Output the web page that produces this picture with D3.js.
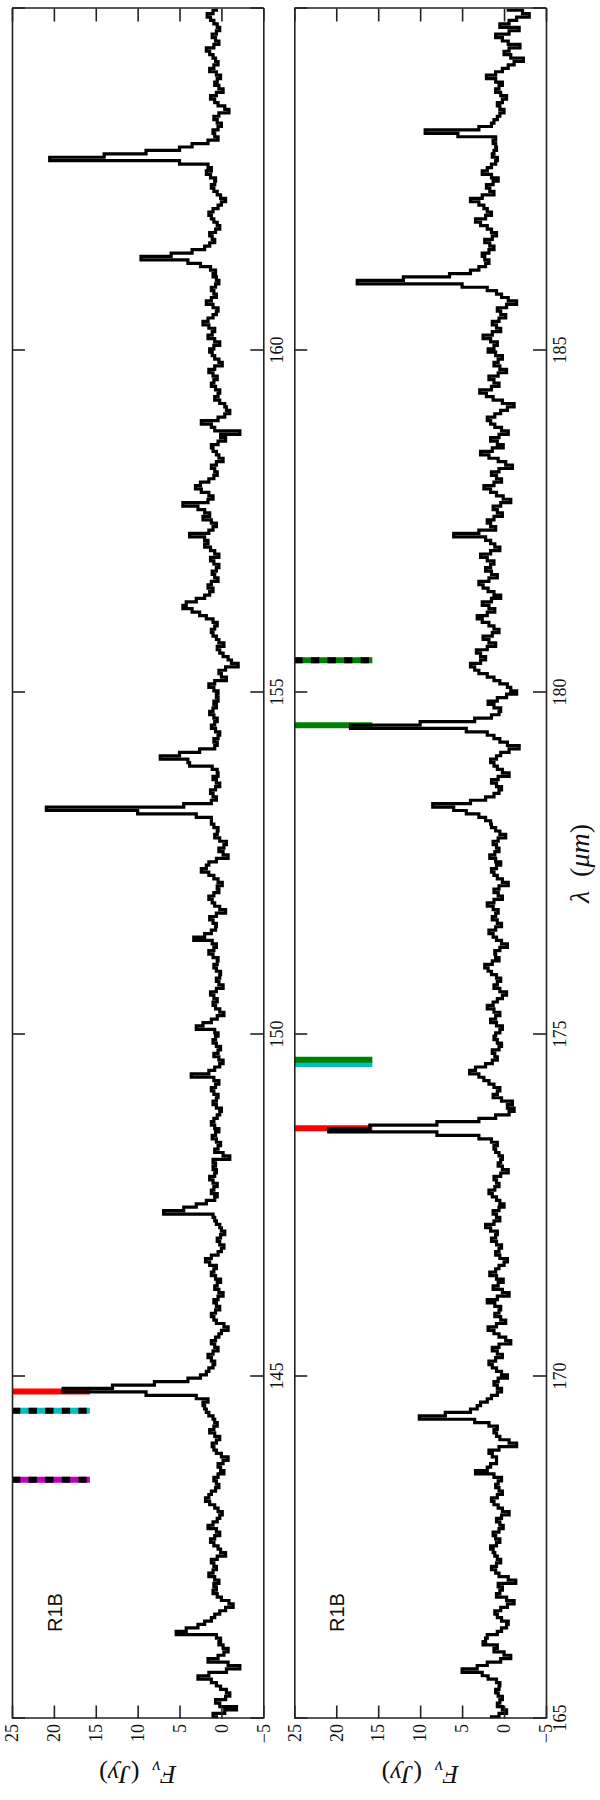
<!DOCTYPE html>
<html>
<head>
<meta charset="utf-8">
<script src="https://cdn.jsdelivr.net/npm/d3@7"></script>
<style>
  html, body { margin: 0; padding: 0; background: #fff; }
  svg { display: block; }
</style>
</head>
<body>
<script>
// ---------------- DATA ----------------
// Flux (Jy) sampled every 0.05 micron; panel A starts at 140, panel B at 165
const lamStep = 0.05;
const lamStartA = 140;
const lamStartB = 165;

const fluxA = [
  0.6, 1.0, -0.4, -1.8, 0.2, 0.7, -0.5, -1.0, -0.6, 0.1, 0.6, 1.2, 2.8, 1.5, -0.6, -2.2, -0.8, 1.6, 0.4, -0.3,   // 140
  -0.8, -0.2, 0.3, 0.1, 0.6, 5.4, 4.2, 2.8, 2.0, 1.2, 0.8, 0.2, -0.5, -1.4, -0.9, 0.0, 0.5, 1.0, 0.6, 0.9,      // 141
  0.3, 0.8, 1.5, 1.0, 0.6, 0.9, 1.2, 0.5, -0.5, 0.1, 0.4, 0.9, 1.3, 0.8, 0.2, 0.6, 1.6, 1.0, 0.5, 0.2,          // 142
  -0.1, 0.4, 0.8, 1.4, 1.9, 1.5, 1.2, 0.7, 0.3, 0.6, 0.9, 0.4, -0.3, 0.1, 0.4, -0.2, -0.8, 0.0, 0.6, 0.9,       // 143
  1.1, 0.6, 0.2, 0.8, 1.4, 0.9, 0.5, 0.8, 1.0, 1.5, 1.8, 2.0, 2.2, 1.6, 3.0, 9.0, 18.9, 13.0, 8.0, 4.0,         // 144
  2.5, 1.8, 1.5, 1.0, 0.8, 1.2, 1.6, 1.0, 0.4, 0.8, 1.2, 0.7, 0.3, 0.0, -0.8, -0.3, 0.6, 0.9, 1.2, 0.7,         // 145
  0.2, 0.6, 0.9, 0.4, -0.2, 0.3, 0.8, 0.5, 0.1, 0.7, 1.2, 0.9, 0.6, 1.4, 1.9, 1.2, 0.4, 0.0, -0.3, 0.2,         // 146
  0.5, 0.1, -0.4, 0.0, 0.2, 0.6, 0.8, 1.0, 6.9, 4.5, 3.0, 1.8, 0.8, 0.5, 1.2, 0.9, 0.5, 1.0, 1.4, 0.8,          // 147
  0.6, 1.0, 0.7, 1.0, -1.0, -0.2, 0.8, 0.4, 0.1, 0.6, 1.1, 0.7, 0.3, 0.8, 1.2, 0.9, 0.5, 0.2, 0.0, 0.6,         // 148
  1.0, 0.6, 0.4, 0.9, 1.2, 0.7, 0.3, 0.9, 3.6, 1.5, 0.8, 0.2, -0.2, 0.3, 0.9, 0.4, 0.1, 0.6, 1.0, 0.7,          // 149
  0.4, 0.8, 3.0, 2.2, 1.2, 0.5, -0.3, 0.2, 0.7, 1.0, 0.5, 0.9, 1.3, 0.6, -0.2, 0.3, 0.6, 0.2, 0.1, 0.6,         // 150
  0.9, 0.5, 0.4, 1.0, 1.5, 0.9, 0.6, 1.1, 3.3, 2.0, 1.2, 0.7, 0.6, 1.0, 1.4, 0.6, -0.5, 0.2, 0.8, 1.1,          // 151
  1.5, 0.9, 0.3, 0.5, -0.1, 0.4, 0.9, 1.5, 2.4, 1.8, 1.5, 0.6, -0.8, -0.2, 0.3, -0.3, -0.6, 0.2, 0.8, 0.5,      // 152
  0.4, 0.9, 1.2, 1.2, 3.0, 10.0, 20.9, 4.5, 1.2, 0.6, 1.0, 1.3, 0.7, 0.2, 0.6, 1.0, 0.4, 0.5, 1.1, 3.8,         // 153
  4.0, 7.3, 5.0, 2.6, 0.8, 0.5, 0.9, 0.4, 0.2, 0.7, 1.2, 0.8, 0.5, 0.9, 1.4, 1.0, 0.6, 0.9, 0.4, 0.6,           // 154
  0.4, 0.9, 1.5, 0.8, -0.6, 0.0, 0.3, -0.5, -2.0, -1.2, -0.8, -0.2, 0.2, 0.5, -0.3, 0.3, 0.6, 1.0, 1.2, 0.8,    // 155
  0.5, 1.0, 1.8, 2.6, 3.5, 4.6, 4.2, 3.0, 2.0, 1.4, 1.0, 1.6, 1.2, 0.4, 0.8, 1.1, 0.6, 0.3, 0.9, 1.3,           // 156
  0.3, 0.8, 1.3, 2.0, 1.6, 2.0, 3.8, 1.5, 1.0, 0.6, 1.2, 2.2, 1.4, 2.0, 2.8, 4.6, 1.6, 1.0, 1.5, 2.4,           // 157
  3.1, 2.5, 1.5, 0.9, 0.5, 0.8, 1.2, 0.6, -0.2, 0.3, 0.6, 1.0, 1.2, 0.4, -0.5, 0.1, -2.2, 0.8, 1.2, 2.4,        // 158
  0.4, -0.4, -1.0, -0.6, -0.4, 0.2, 0.8, 0.4, 0.2, 0.7, 1.2, 0.9, 0.5, 1.0, 1.5, 0.8, -0.1, 0.3, 0.8, 1.1,      // 159
  1.4, 0.9, 0.2, 0.8, 1.6, 1.1, 0.8, 1.5, 2.2, 1.6, 1.0, 0.6, 0.4, 1.0, 1.8, 1.2, 0.6, 0.9, 1.2, 0.7,           // 160
  0.3, 0.6, 1.0, 0.7, 1.3, 2.5, 4.0, 9.6, 6.0, 3.5, 2.0, 1.4, 0.8, 1.1, 1.4, 0.7, 0.2, 0.5, 0.9, 1.2,           // 161
  1.5, 1.0, 0.4, 0.0, -0.5, 0.1, 0.5, 0.9, 1.2, 0.8, 0.7, 1.3, 1.8, 1.2, 1.6, 5.0, 20.5, 14.0, 9.0, 5.0,        // 162
  3.5, 1.6, 0.4, 0.8, 1.0, 0.4, 0.0, 0.5, 0.9, 0.3, -0.9, -0.4, 0.4, 0.8, 1.3, 0.6, -0.2, 0.3, 0.8, 0.5,        // 163
  0.1, 0.6, 1.4, 0.9, 0.4, 0.7, 1.0, 1.4, 1.8, 0.9, 0.3, 0.7, 1.1, 0.6, 0.2, 0.5, 0.9, 1.3, 1.7, 1.0,           // 164
  0.6                                                                                                           // 165
];

const fluxB = [
  1.5, 0.6, -0.3, 0.2, 0.8, 0.5, 0.2, 0.7, 1.0, 0.6, 0.5, 0.9, 1.9, 2.6, 5.0, 3.2, 2.0, 0.4, -0.8, 0.0,         // 165
  1.2, 0.8, 2.5, 2.2, 2.0, 0.8, 0.3, -0.3, -0.5, 0.3, 0.8, 1.1, 0.4, -0.4, -1.2, -0.3, 0.9, 0.5, 0.2, 0.7,      // 166
  -1.4, -0.5, 0.6, 1.0, 1.5, 0.9, 0.4, 0.8, 1.1, 1.3, 1.6, 0.9, 0.5, 1.0, 1.3, 0.6, 0.1, 0.5, 0.9, 0.3,         // 167
  -0.6, 0.2, 0.7, 1.2, 1.5, 0.8, 0.2, 0.6, 1.0, 0.7, 0.3, 1.2, 3.4, 2.0, 1.6, 0.9, 0.9, 1.4, 1.8, 0.6,          // 168
  -1.5, -0.6, 0.5, 0.9, 1.2, 0.8, 1.8, 3.5, 10.1, 7.0, 4.0, 3.2, 2.8, 2.0, 1.5, 0.8, 0.3, 0.8, 1.2, 0.7,        // 169
  -0.4, 0.3, 0.9, 1.4, 1.8, 1.0, 0.2, 0.8, 1.4, 0.6, -0.8, -0.2, 0.6, 1.2, 1.9, 0.9, -0.2, 0.4, 1.1, 0.6,       // 170
  0.4, 1.1, 2.0, 0.8, -0.6, 0.2, 1.3, 0.7, 0.1, 0.9, 1.7, 1.0, 0.6, 0.0, -0.4, 0.5, 1.0, 0.6, 0.3, 0.9,         // 171
  1.5, 1.0, 0.8, 1.6, 2.2, 1.2, 0.5, 0.9, 1.3, 0.6, 0.0, 0.5, 0.9, 1.4, 1.8, 1.1, 0.6, 0.9, 1.2, 0.4,           // 172
  -0.5, 0.2, 0.7, 0.4, 0.2, 0.6, 1.0, 1.2, 0.8, 1.5, 3.0, 8.0, 20.9, 16.0, 8.0, 3.0, 1.0, -0.6, -1.2, -0.4,     // 173
  -1.0, 0.3, 1.3, 0.8, 0.5, 1.2, 1.8, 2.4, 3.0, 4.1, 3.4, 2.2, 1.4, 0.8, 1.1, 1.4, 0.6, 0.3, 0.8, 1.2,          // 174
  1.0, 0.5, 0.2, 0.9, 1.6, 1.0, 0.5, 1.2, 2.0, 1.3, 0.8, 0.2, -0.3, 0.5, 1.2, 0.8, 0.4, 0.9, 1.5, 1.9,          // 175
  2.3, 1.4, 0.6, 1.0, 1.1, 0.5, -0.4, 0.3, 0.9, 1.3, 1.8, 1.0, 0.3, 0.8, 1.4, 1.0, 0.7, 1.3, 2.0, 1.2,          // 176
  0.2, 0.7, 1.2, 0.6, -0.5, 0.2, 0.8, 1.2, 1.5, 0.9, 0.4, 1.0, 1.7, 1.1, 0.6, 0.9, 1.3, 0.7, -0.2, 0.5,         // 177
  1.0, 1.5, 1.6, 2.2, 3.0, 4.5, 6.0, 8.5, 4.0, 2.2, 1.2, 0.6, 0.3, 0.9, 1.5, 0.7, -0.6, 0.2, 0.8, 1.2,          // 178
  1.6, 0.9, 0.4, -0.6, -1.8, -0.4, 0.5, 1.2, 2.0, 4.5, 18.3, 10.0, 3.5, 1.5, 0.6, 0.4, 1.2, 1.9, 0.8, -0.3,     // 179
  -1.5, -0.8, -0.4, 0.5, 1.2, 2.0, 3.0, 3.5, 4.0, 2.8, 2.2, 2.8, 3.3, 2.0, 1.0, 1.8, 2.5, 1.4, 0.6, 1.2,        // 180
  1.8, 2.6, 3.2, 2.0, 1.1, 1.8, 2.6, 1.5, 0.4, 1.2, 1.9, 2.5, 3.0, 1.8, 0.8, 1.5, 2.2, 1.6, 1.2, 2.0,           // 181
  2.8, 1.6, 0.5, 1.1, 1.6, 2.2, 6.0, 3.0, 1.0, 1.6, 2.0, 1.2, 0.2, 0.8, 1.3, 0.4, -0.8, 0.1, 0.9, 1.6,          // 182
  2.4, 1.2, 0.3, 0.9, 1.5, 0.6, -1.0, -0.2, 0.7, 1.8, 2.8, 1.4, 0.1, 0.8, 1.6, 0.6, -0.5, 0.3, 1.1, 1.6,        // 183
  2.0, 1.1, 0.4, -0.4, -1.2, 0.2, 1.3, 2.1, 2.9, 1.5, 0.6, 1.2, 1.8, 0.7, -0.3, 0.5, 1.2, 0.7, 0.2, 1.0,        // 184
  1.9, 1.2, 0.8, 1.6, 2.5, 1.4, 0.4, 0.9, 1.4, 0.6, -0.2, 0.4, 0.8, -0.3, -1.5, -0.5, 0.3, 0.9, 2.0, 5.0,       // 185
  17.5, 12.0, 6.5, 4.0, 3.0, 2.2, 1.8, 2.3, 2.6, 1.8, 1.2, 1.7, 2.3, 1.4, 0.9, 1.5, 2.0, 2.8, 3.4, 2.2,         // 186
  1.5, 2.0, 2.4, 3.0, 4.0, 2.6, 1.2, 1.7, 2.1, 1.3, 0.7, 1.5, 2.6, 2.0, 1.5, 1.0, 0.8, 1.4, 1.2, 0.9,           // 187
  1.0, 1.3, 1.0, 5.5, 9.4, 3.0, 1.5, 1.2, 0.8, 0.5, 0.0, 0.5, 0.8, 0.2, -0.3, 0.4, 1.0, 0.6, 0.2, 1.0,          // 188
  2.1, 1.0, 0.2, -0.5, -1.2, -2.3, -0.8, 0.0, -0.6, -1.9, -0.5, 0.2, 1.0, -0.6, -1.8, 0.5, -0.6, -1.5, -3.0, -2.2, // 189
  -0.5                                                                                                          // 190
];

// Axis ticks / labels
const fluxTicks = [25, 20, 15, 10, 5, 0, -5];
const lamTicksA = [140, 145, 150, 155, 160, 165];
const lamLabelsA = [145, 150, 155, 160];
const lamTicksB = [165, 170, 175, 180, 185, 190];
const lamLabelsB = [165, 170, 175, 180, 185];
const panelText = ["R1B", "R1B"];

// Line markers (wavelength, colour, dashed)
const markLamA = [143.49, 144.50, 144.78];
const markColA = ["#bf00bf", "#00bfbf", "#ff0000"];
const markDashA = [true, true, false];
const markLamB = [173.63, 174.57, 174.63, 179.52, 180.47];
const markColB = ["#ff0000", "#00bfbf", "#008000", "#008000", "#008000"];
const markDashB = [false, false, false, false, true];
const markFluxRange = [25, 15.7];

// ---------------- DRAWING ----------------
const W = 600, H = 1800;
const svg = d3.select("body").append("svg")
  .attr("width", W).attr("height", H)
  .attr("xmlns", "http://www.w3.org/2000/svg");
svg.append("rect").attr("width", W).attr("height", H).attr("fill", "#fff");

// draw in landscape coordinates, then rotate the figure by -90 degrees
const fig = svg.append("g").attr("transform", `translate(0,${H}) rotate(-90)`);
const defs = svg.append("defs");

const xRange = [81.5, 1791.5];
const panels = [
  { lam0: lamStartA, lam1: lamStartA + 25, flux: fluxA, top: 12, bottom: 263.3,
    ticks: lamTicksA, labels: lamLabelsA, mLam: markLamA, mCol: markColA, mDash: markDashA },
  { lam0: lamStartB, lam1: lamStartB + 25, flux: fluxB, top: 294.3, bottom: 546,
    ticks: lamTicksB, labels: lamLabelsB, mLam: markLamB, mCol: markColB, mDash: markDashB }
];

const serif = "'Liberation Serif', 'DejaVu Serif', serif";
const frameCol = "#222";

panels.forEach((p, i) => {
  const x = d3.scaleLinear().domain([p.lam0, p.lam1]).range(xRange);
  const y = d3.scaleLinear().domain([-5, 25]).range([p.bottom, p.top]);
  const g = fig.append("g");

  defs.append("clipPath").attr("id", "clip" + i)
    .append("rect")
    .attr("x", xRange[0]).attr("y", p.top)
    .attr("width", xRange[1] - xRange[0]).attr("height", p.bottom - p.top);

  // markers
  const mk = g.append("g");
  p.mLam.forEach((l, k) => {
    mk.append("line")
      .attr("x1", x(l)).attr("x2", x(l))
      .attr("y1", y(markFluxRange[0])).attr("y2", y(markFluxRange[1]))
      .attr("stroke", p.mCol[k]).attr("stroke-width", 6);
    if (p.mDash[k]) {
      mk.append("line")
        .attr("x1", x(l)).attr("x2", x(l))
        .attr("y1", y(markFluxRange[0])).attr("y2", y(markFluxRange[1]))
        .attr("stroke", "#000").attr("stroke-width", 6)
        .attr("stroke-dasharray", "8.3,8.3");
    }
  });

  // spectrum
  const data = p.flux.map((f, k) => ({ lam: p.lam0 + k * lamStep, f: f }));
  const line = d3.line().x(d => x(d.lam)).y(d => y(d.f)).curve(d3.curveStep);
  g.append("path").datum(data)
    .attr("clip-path", `url(#clip${i})`)
    .attr("d", line)
    .attr("fill", "none").attr("stroke", "#000")
    .attr("stroke-width", 3.2).attr("stroke-linejoin", "miter");

  // axes
  const axB = g.append("g").attr("transform", `translate(0,${p.bottom})`)
    .call(d3.axisBottom(x).tickValues(p.ticks).tickSizeInner(-13).tickSizeOuter(0)
      .tickPadding(7).tickFormat(d => p.labels.includes(d) ? String(d) : ""));
  const axT = g.append("g").attr("transform", `translate(0,${p.top})`)
    .call(d3.axisTop(x).tickValues(p.ticks).tickSizeInner(-13).tickSizeOuter(0)
      .tickFormat(() => ""));
  const axL = g.append("g").attr("transform", `translate(${xRange[0]},0)`)
    .call(d3.axisLeft(y).tickValues(fluxTicks).tickSizeInner(-13).tickSizeOuter(0)
      .tickPadding(5.5).tickFormat(d3.format("d")));
  const axR = g.append("g").attr("transform", `translate(${xRange[1]},0)`)
    .call(d3.axisRight(y).tickValues(fluxTicks).tickSizeInner(-13).tickSizeOuter(0)
      .tickFormat(() => ""));

  [axB, axT, axL, axR].forEach(a => {
    a.attr("font-family", serif).attr("font-size", 18);
    a.selectAll("path.domain").attr("stroke", frameCol).attr("stroke-width", 1.6);
    a.selectAll(".tick line").attr("stroke", frameCol).attr("stroke-width", 1.6);
    a.selectAll("text").attr("fill", "#111");
  });

  // panel label
  g.append("text")
    .attr("x", 168).attr("y", p.top + 50)
    .attr("font-family", "'Liberation Sans', Arial, sans-serif")
    .attr("font-size", 20).attr("fill", "#111")
    .text(panelText[i]);

  // y axis label  F_nu (Jy)
  const yl = g.append("text")
    .attr("transform", `translate(34,${(p.top + p.bottom) / 2}) rotate(-90)`)
    .attr("text-anchor", "middle")
    .attr("font-family", serif).attr("font-size", 26).attr("fill", "#111")
    .style("white-space", "pre");
  yl.append("tspan").attr("font-style", "italic").text("F");
  yl.append("tspan").attr("font-style", "italic").attr("font-size", 18).attr("dy", 5).text("ν");
  yl.append("tspan").attr("dy", -5).text("\u00A0\u00A0(");
  yl.append("tspan").attr("font-style", "italic").text("Jy");
  yl.append("tspan").text(")");
});

// x axis label  lambda (um)
const xl = fig.append("text")
  .attr("x", (xRange[0] + xRange[1]) / 2).attr("y", 589)
  .attr("text-anchor", "middle")
  .attr("font-family", serif).attr("font-size", 28).attr("fill", "#111")
  .style("white-space", "pre");
xl.append("tspan").attr("font-style", "italic").text("λ");
xl.append("tspan").text("\u00A0\u00A0(");
xl.append("tspan").attr("font-style", "italic").text("μm");
xl.append("tspan").text(")");
</script>
</body>
</html>
